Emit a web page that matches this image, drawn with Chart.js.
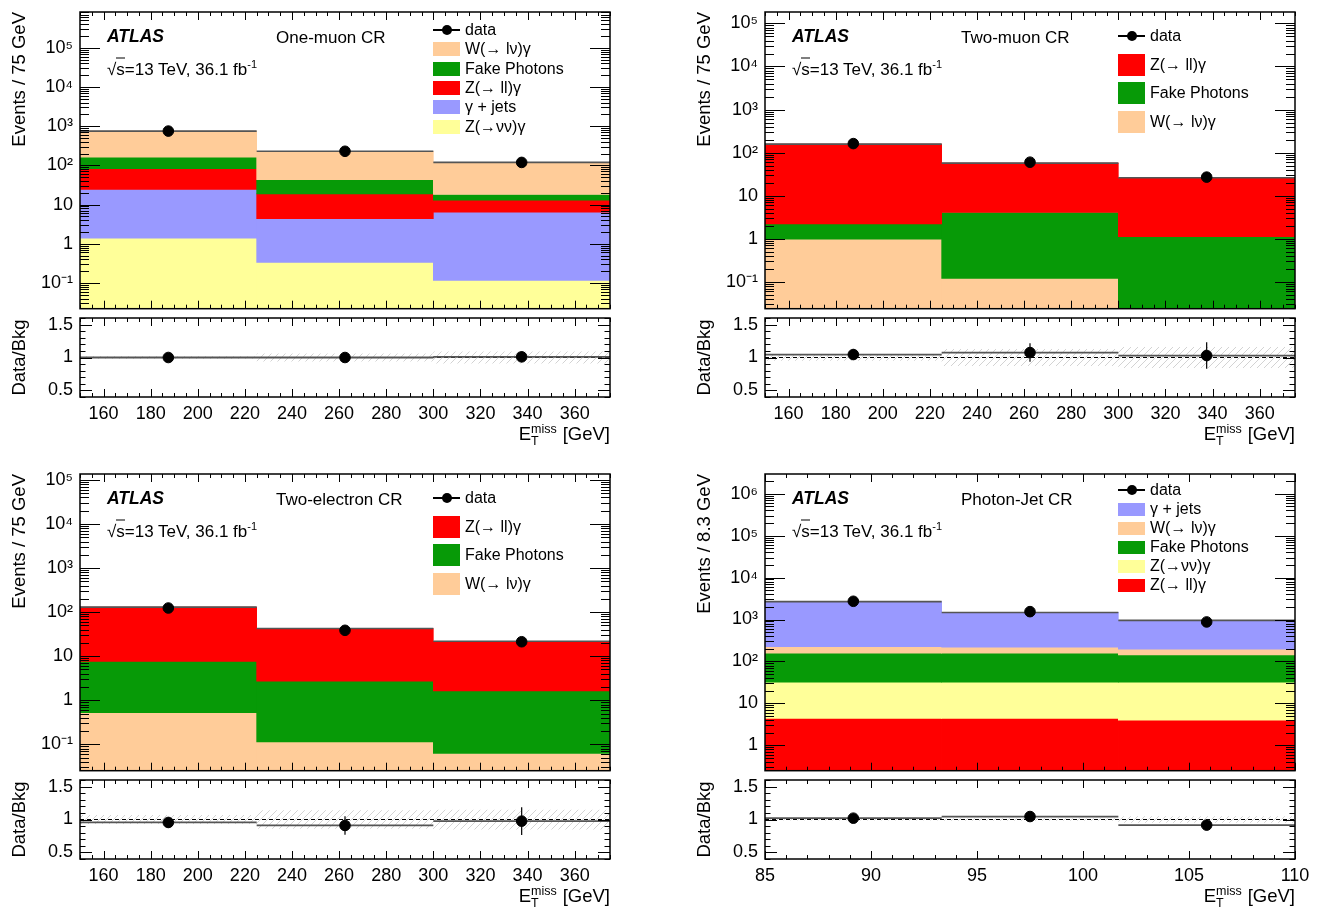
<!DOCTYPE html>
<html>
<head>
<meta charset="utf-8">
<script src="https://cdn.jsdelivr.net/npm/chart.js@4.4.1/dist/chart.umd.min.js"></script>
<style>
  body { margin: 0; width: 1322px; height: 908px; background: #fff; position: relative; overflow: hidden;
         font-family: "Liberation Sans", Arial, Helvetica, sans-serif; color: #000; }
  canvas { position: absolute; }
  .txt { position: absolute; white-space: nowrap; line-height: 1; transform: translateY(-50%); }
  .atlas { font-weight: bold; font-style: italic; font-size: 17.5px; }
  .lab { font-size: 17px; }
  .lab .ov { border-top: 1px solid #000; padding-top: 1px; }
  .leg { font-size: 16px; }
  .swatch { position: absolute; }
  .xt { position: absolute; white-space: nowrap; font-size: 18.5px; line-height: 1; text-align: right; }
  .xt .st { display: inline-flex; flex-direction: column; vertical-align: 7px; font-size: 12.5px; line-height: 0.95; text-align: left; margin-right: 6px; }
  sup { font-size: 11px; vertical-align: 7px; line-height: 0; }
</style>
</head>
<body>
<script>
/* ATLAS mono-photon control regions: stacked MET histograms + data/bkg ratio */

// ---- data -----------------------------------------------------------------
const metBins = [150, 225, 300, 375];
const pjBins = [85, 93.333, 101.667, 110];
const metTickValues = [160, 180, 200, 220, 240, 260, 280, 300, 320, 340, 360];
const metTickLabels = ['160', '180', '200', '220', '240', '260', '280', '300', '320', '340', '360'];
const pjTickValues = [85, 90, 95, 100, 105, 110];
const pjTickLabels = ['85', '90', '95', '100', '105', '110'];
const logTickValues = [0.1, 1, 10, 100, 1e3, 1e4, 1e5, 1e6];
const logTickLabels = ['10\u207B\u00B9', '1', '10', '10\u00B2', '10\u00B3', '10\u2074', '10\u2075', '10\u2076'];
const ratioTickValues = [0.5, 1, 1.5];
const ratioTickLabels = ['0.5', '1', '1.5'];

// One-muon CR
const mu1Znunu = [1.38, 0.335, 0.116];
const mu1Gjet = [23.1, 4.03, 6.3];
const mu1Zll = [57.5, 14.4, 6.6];
const mu1Fake = [79, 24.2, 5.0];
const mu1Wlnu = [589, 186, 101];
const mu1Data = [750, 229, 119];
const mu1Ratio = [1.0, 1.0, 1.01];
const mu1RatioErr = [0.04, 0.07, 0.08];
const mu1BkgUnc = [0.02, 0.06, 0.09];

// Two-muon CR
const mu2Wlnu = [0.98, 0.12, 0];
const mu2Fake = [1.22, 3.95, 1.12];
const mu2Zll = [155, 53, 25];
const mu2Data = [162, 60, 27];
const mu2Ratio = [1.045, 1.075, 1.03];
const mu2RatioErr = [0.08, 0.14, 0.2];
const mu2BkgUnc = [0.05, 0.13, 0.16];

// Two-electron CR
const ee2Wlnu = [0.525, 0.114, 0.062];
const ee2Fake = [7.1, 2.6, 1.57];
const ee2Zll = [122, 39.7, 20.2];
const ee2Data = [124, 38.7, 21.3];
const ee2Ratio = [0.955, 0.91, 0.975];
const ee2RatioErr = [0.08, 0.14, 0.21];
const ee2BkgUnc = [0.07, 0.14, 0.15];

// Photon-Jet CR
const pjZll = [4.4, 4.4, 4.0];
const pjZnunu = [27.6, 27.6, 28];
const pjFake = [125, 125, 111];
const pjWlnu = [68, 61, 52];
const pjGjet = [2445, 1257, 760];
const pjData = [2720, 1540, 875];
const pjRatio = [1.02, 1.045, 0.915];
const pjRatioErr = [0.025, 0.03, 0.035];
const pjBkgUnc = [0.015, 0.02, 0.05];

const names = { wlnu: 'W(\u2192 l\u03BD)\u03B3', fake: 'Fake Photons', zll: 'Z(\u2192 ll)\u03B3', gjet: '\u03B3 + jets', zvv: 'Z(\u2192\u03BD\u03BD)\u03B3' };
const colors = { wlnu: '#ffcc99', fake: '#079a07', zll: '#ff0000', gjet: '#9999ff', zvv: '#ffff99' };

// ---- panels ---------------------------------------------------------------
const panels = [
  { left: 0, top: 0, region: 'One-muon CR', yTitle: 'Events / 75 GeV', edges: metBins,
    xTicks: [metTickValues, metTickLabels], xMinor: 5, xMajor: 20, yMin: 0.022, yMax: 8.2e5,
    stack: [['zvv', mu1Znunu], ['gjet', mu1Gjet], ['zll', mu1Zll], ['fake', mu1Fake], ['wlnu', mu1Wlnu]],
    data: mu1Data, ratio: mu1Ratio, ratioErr: mu1RatioErr, unc: mu1BkgUnc,
    legend: ['wlnu', 'fake', 'zll', 'gjet', 'zvv'], legTop: 18, legStep: 19.3, legBox: 14 },
  { left: 685, top: 0, region: 'Two-muon CR', yTitle: 'Events / 75 GeV', edges: metBins,
    xTicks: [metTickValues, metTickLabels], xMinor: 5, xMajor: 20, yMin: 0.0238, yMax: 1.84e5,
    stack: [['wlnu', mu2Wlnu], ['fake', mu2Fake], ['zll', mu2Zll]],
    data: mu2Data, ratio: mu2Ratio, ratioErr: mu2RatioErr, unc: mu2BkgUnc,
    legend: ['zll', 'fake', 'wlnu'], legTop: 24, legStep: 28.7, legBox: 22 },
  { left: 0, top: 462, region: 'Two-electron CR', yTitle: 'Events / 75 GeV', edges: metBins,
    xTicks: [metTickValues, metTickLabels], xMinor: 5, xMajor: 20, yMin: 0.0253, yMax: 1.36e5,
    stack: [['wlnu', ee2Wlnu], ['fake', ee2Fake], ['zll', ee2Zll]],
    data: ee2Data, ratio: ee2Ratio, ratioErr: ee2RatioErr, unc: ee2BkgUnc,
    legend: ['zll', 'fake', 'wlnu'], legTop: 24, legStep: 28.5, legBox: 22 },
  { left: 685, top: 462, region: 'Photon-Jet CR', yTitle: 'Events / 8.3 GeV', edges: pjBins,
    xTicks: [pjTickValues, pjTickLabels], xMinor: 1, xMajor: 5, yMin: 0.248, yMax: 2.95e6,
    stack: [['zll', pjZll], ['zvv', pjZnunu], ['fake', pjFake], ['wlnu', pjWlnu], ['gjet', pjGjet]],
    data: pjData, ratio: pjRatio, ratioErr: pjRatioErr, unc: pjBkgUnc,
    legend: ['gjet', 'wlnu', 'fake', 'zvv', 'zll'], legTop: 16, legStep: 19, legBox: 13 }
];

Chart.defaults.font.family = '"Liberation Sans", Arial, Helvetica, sans-serif';
Chart.defaults.color = '#000';

// ROOT-like frame with inward ticks on all four sides
const rootAxes = {
  id: 'rootAxes',
  afterDatasetsDraw(chart, args, o) {
    const { ctx, chartArea: a } = chart;
    const x = chart.scales.x, y = chart.scales.y;
    ctx.save();
    ctx.strokeStyle = '#000';
    ctx.lineWidth = 1;
    ctx.beginPath();
    const nx = Math.round((x.max - x.min) / o.xMinor);
    for (let i = 0; i <= nx; i++) {
      const v = x.min + i * o.xMinor;
      const major = Math.abs(v / o.xMajor - Math.round(v / o.xMajor)) < 1e-6;
      const len = major ? o.xLen[0] : o.xLen[1];
      const px = Math.round(x.getPixelForValue(v)) + 0.5;
      ctx.moveTo(px, a.bottom); ctx.lineTo(px, a.bottom - len);
      ctx.moveTo(px, a.top); ctx.lineTo(px, a.top + len);
    }
    const yt = [];
    if (o.log) {
      for (let e = Math.floor(Math.log10(y.min)); e <= Math.ceil(Math.log10(y.max)); e++) {
        for (let k = 1; k < 10; k++) {
          const v = k * Math.pow(10, e);
          if (v >= y.min && v <= y.max) yt.push([v, k === 1]);
        }
      }
    } else {
      const ny = Math.round((y.max - y.min) / o.yMinor);
      for (let i = 0; i <= ny; i++) {
        const v = y.min + i * o.yMinor;
        yt.push([v, Math.abs(v / o.yMajor - Math.round(v / o.yMajor)) < 1e-6]);
      }
    }
    for (const [v, major] of yt) {
      const py = Math.round(y.getPixelForValue(v)) + 0.5;
      const len = major ? o.yLen[0] : o.yLen[1];
      ctx.moveTo(a.left, py); ctx.lineTo(a.left + len, py);
      ctx.moveTo(a.right, py); ctx.lineTo(a.right - len, py);
    }
    ctx.stroke();
    ctx.lineWidth = 1.5;
    ctx.strokeRect(a.left, a.top, a.right - a.left, a.bottom - a.top);
    ctx.restore();
  }
};

function hatchPattern() {
  const c = document.createElement('canvas');
  c.width = 7; c.height = 7;
  const g = c.getContext('2d');
  g.strokeStyle = '#c8c8c8';
  g.lineWidth = 0.8;
  g.beginPath();
  g.moveTo(0, 7); g.lineTo(7, 0);
  g.moveTo(-1, 1); g.lineTo(1, -1);
  g.moveTo(6, 8); g.lineTo(8, 6);
  g.stroke();
  return g.createPattern(c, 'repeat');
}

function makeCanvas(left, top, w, h) {
  const c = document.createElement('canvas');
  c.width = w; c.height = h;
  c.style.left = left + 'px'; c.style.top = top + 'px';
  c.style.width = w + 'px'; c.style.height = h + 'px';
  document.body.appendChild(c);
  return c;
}

function addDiv(cls, html, left, top, extra) {
  const d = document.createElement('div');
  d.className = cls;
  d.innerHTML = html;
  d.style.left = left + 'px';
  d.style.top = top + 'px';
  if (extra) Object.assign(d.style, extra);
  document.body.appendChild(d);
  return d;
}

const centers = edges => edges.slice(0, -1).map((e, i) => (e + edges[i + 1]) / 2);

function stepSegments(edges, vals) {
  const pts = [];
  vals.forEach((v, i) => pts.push({ x: edges[i], y: v }, { x: edges[i + 1], y: v }, { x: edges[i + 1], y: null }));
  return pts;
}

function band(edges, vals, sign, unc) {
  const pts = [];
  vals.forEach((v, i) => pts.push({ x: edges[i], y: v + sign * unc[i] }, { x: edges[i + 1], y: v + sign * unc[i] }));
  return pts;
}

const fixWidth = w => s => { s.width = w; s.paddingTop = 0; s.paddingBottom = 0; };
const fixHeight = h => s => { s.height = h; s.paddingLeft = 0; s.paddingRight = 0; };
const titleFont = { size: 18.5 };
const tickFont = { size: 18 };

function withOrder(list) {
  // first element in list drawn at the back
  return list.map((d, i) => Object.assign(d, { order: list.length - i }));
}

function drawPanel(p) {
  const cx = centers(p.edges);
  const xMin = p.edges[0], xMax = p.edges[p.edges.length - 1];

  // main stacked histogram (floating bars, bottom component starts at the axis minimum)
  const bars = [];
  const total = p.edges.slice(0, -1).map(() => 0);
  p.stack.forEach(([key, vals]) => {
    bars.push({
      type: 'bar', label: names[key], backgroundColor: colors[key], borderWidth: 0,
      barPercentage: 1, categoryPercentage: 1, grouped: false,
      data: vals.map((v, i) => ({ x: cx[i], y: [Math.max(total[i], p.yMin), total[i] + v] }))
    });
    vals.forEach((v, i) => { total[i] += v; });
  });
  const mainSets = withOrder([
    ...bars,
    { type: 'line', data: stepSegments(p.edges, total), borderColor: '#555', borderWidth: 1.6, pointRadius: 0 },
    { type: 'line', label: 'data', data: p.data.map((v, i) => ({ x: cx[i], y: v })), showLine: false,
      pointRadius: 5.3, pointBackgroundColor: '#000', pointBorderColor: '#000' }
  ]);

  new Chart(makeCanvas(p.left, p.top, 630, 315), {
    type: 'bar',
    data: { datasets: mainSets },
    options: {
      responsive: false, animation: false,
      layout: { padding: { top: 12, bottom: 2, left: 0, right: 20 } },
      plugins: { legend: { display: false }, tooltip: { enabled: false },
        rootAxes: { xMinor: p.xMinor, xMajor: p.xMajor, xLen: [8, 4], yLen: [20, 9], log: true } },
      scales: {
        x: { type: 'linear', display: false, offset: false, min: xMin, max: xMax,
             afterBuildTicks: s => { s.ticks = p.edges.map(v => ({ value: v })); } },
        y: { type: 'logarithmic', min: p.yMin, max: p.yMax,
             grid: { display: false, drawTicks: false }, border: { display: false },
             afterBuildTicks: s => { s.ticks = logTickValues.filter(v => v >= s.min && v <= s.max).map(v => ({ value: v })); },
             ticks: { font: tickFont, padding: 7, autoSkip: false, maxRotation: 0,
                      callback: v => logTickLabels[logTickValues.indexOf(v)] },
             title: { display: true, text: p.yTitle, align: 'end', font: titleFont, padding: { top: 9, bottom: 0 } },
             afterFit: fixWidth(80) }
      }
    },
    plugins: [rootAxes]
  });

  // ratio panel
  const errSegs = [];
  p.ratio.forEach((r, i) => errSegs.push({ x: cx[i], y: r - p.ratioErr[i] }, { x: cx[i], y: r + p.ratioErr[i] }, { x: cx[i], y: null }));
  const hatch = hatchPattern();
  const ones = p.edges.slice(0, -1).map(() => 1);
  const ratioSets = withOrder([
    { type: 'line', data: band(p.edges, ones, 1, p.unc), borderWidth: 0, pointRadius: 0,
      fill: '+1', backgroundColor: hatch },
    { type: 'line', data: band(p.edges, ones, -1, p.unc), borderWidth: 0, pointRadius: 0, fill: false },
    { type: 'line', data: [{ x: xMin, y: 1 }, { x: xMax, y: 1 }], borderColor: '#000', borderWidth: 1, borderDash: [4, 3], pointRadius: 0 },
    { type: 'line', data: stepSegments(p.edges, p.ratio), borderColor: '#555', borderWidth: 1.8, pointRadius: 0 },
    { type: 'line', data: errSegs, borderColor: '#000', borderWidth: 1.2, pointRadius: 0 },
    { type: 'line', data: p.ratio.map((r, i) => ({ x: cx[i], y: r })), showLine: false,
      pointRadius: 5.3, pointBackgroundColor: '#000', pointBorderColor: '#000' }
  ]);

  new Chart(makeCanvas(p.left, p.top + 310, 630, 117), {
    type: 'line',
    data: { datasets: ratioSets },
    options: {
      responsive: false, animation: false,
      layout: { padding: { top: 8, bottom: 0, left: 0, right: 20 } },
      plugins: { legend: { display: false }, tooltip: { enabled: false },
        rootAxes: { xMinor: p.xMinor, xMajor: p.xMajor, xLen: [8, 4], yLen: [12, 5.5], log: false, yMinor: 0.1, yMajor: 0.5 } },
      scales: {
        x: { type: 'linear', min: xMin, max: xMax, offset: false,
             grid: { display: false, drawTicks: false }, border: { display: false },
             afterBuildTicks: s => { s.ticks = p.xTicks[0].map(v => ({ value: v })); },
             ticks: { font: tickFont, padding: 6, autoSkip: false, maxRotation: 0,
                      callback: v => p.xTicks[1][p.xTicks[0].indexOf(v)] },
             afterFit: fixHeight(30) },
        y: { type: 'linear', min: 0.4, max: 1.6,
             grid: { display: false, drawTicks: false }, border: { display: false },
             afterBuildTicks: s => { s.ticks = ratioTickValues.map(v => ({ value: v })); },
             ticks: { font: tickFont, padding: 7, autoSkip: false,
                      callback: v => ratioTickLabels[ratioTickValues.indexOf(v)] },
             title: { display: true, text: 'Data/Bkg', align: 'center', font: titleFont, padding: { top: 9, bottom: 0 } },
             afterFit: fixWidth(80) }
      }
    },
    plugins: [rootAxes]
  });

  // labels inside the frame
  const fx = p.left + 80, fy = p.top + 12;
  addDiv('txt atlas', 'ATLAS', fx + 27, fy + 25);
  addDiv('txt lab', '\u221A<span class="ov">s</span>=13 TeV, 36.1 fb<sup>-1</sup>', fx + 27, fy + 57);
  addDiv('txt lab', p.region, fx + 196, fy + 25);

  // legend
  const bx = fx + 353, bw = 27, tx = fx + 385;
  let ly = fy + p.legTop;
  addDiv('swatch', '', bx, ly - 0.75, { width: bw + 'px', height: '1.5px', background: '#000' });
  addDiv('swatch', '', bx + bw / 2 - 5, ly - 5, { width: '10px', height: '10px', borderRadius: '50%', background: '#000' });
  addDiv('txt leg', 'data', tx, ly);
  p.legend.forEach(key => {
    ly += p.legStep;
    addDiv('swatch', '', bx, ly - p.legBox / 2, { width: bw + 'px', height: p.legBox + 'px', background: colors[key] });
    addDiv('txt leg', names[key], tx, ly);
  });

  // x-axis title, right aligned to the frame
  addDiv('xt', 'E<span class="st"><span>miss</span><span>T</span></span>[GeV]', 0, p.top + 424,
    { left: 'auto', right: (1322 - (p.left + 610)) + 'px' });
}

panels.forEach(drawPanel);
</script>
</body>
</html>
